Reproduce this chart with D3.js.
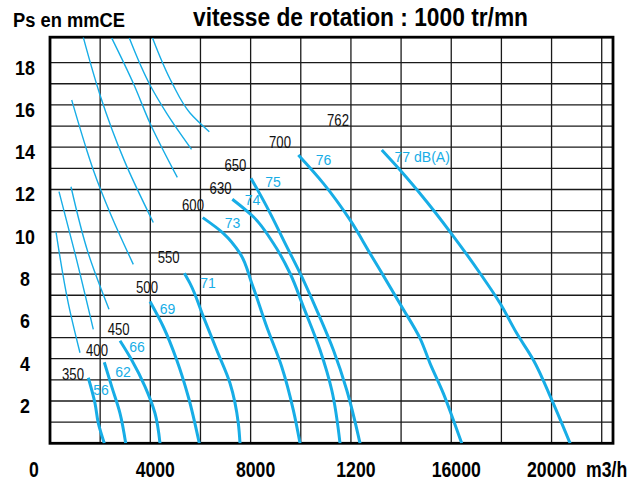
<!DOCTYPE html>
<html>
<head>
<meta charset="utf-8">
<script src="https://cdn.jsdelivr.net/npm/d3@7"></script>
<style>
  html, body { margin: 0; padding: 0; background: #fff; }
  svg { display: block; font-family: "Liberation Sans", Arial, sans-serif; }
</style>
</head>
<body>
<svg id="chart" width="641" height="483"></svg>
<script>
// ---------------- data ----------------
const titleText = "vitesse de rotation : 1000 tr/mn";
const yTitle = "Ps en mmCE";
const xUnit = "m3/h";

const xTickValues = [0, 4000, 8000, 12000, 16000, 20000];
const xTickLabels = ["0", "4000", "8000", "1200", "16000", "20000"];
const yTickValues = [2, 4, 6, 8, 10, 12, 14, 16, 18];

// thick curves (flow m3/h, pressure mmCE), one per noise level
const c56 = [[1527,3.10],[1795,1.89],[1926,0.95],[2165,0]];
const c62 = [[2165,3.83],[2461,2.68],[2792,1.42],[3019,0]];
const c66 = [[2792,4.85],[3258,3.94],[3789,2.68],[4187,1.42],[4387,0]];
const c69 = [[3988,6.70],[4518,5.51],[5053,3.94],[5515,2.20],[5954,0]];
const c71 = [[5356,8.04],[5583,7.56],[6114,5.99],[6648,4.41],[7178,2.84],[7509,0.95],[7577,0]];
const c73 = [[6090,10.67],[6912,9.93],[7577,8.98],[8044,7.57],[8642,5.51],[9240,3.62],[9703,1.57],[9970,0]];
const c74 = [[7270,11.54],[8108,10.71],[8905,9.46],[9571,8.04],[10102,6.46],[10768,4.41],[11234,2.52],[11565,0]];
const c75 = [[8016,12.53],[8642,11.19],[9440,9.30],[10038,7.88],[10636,6.30],[11300,4.41],[11832,2.52],[12363,0]];
const c76 = [[9902,13.63],[10899,12.29],[11964,10.56],[12762,8.98],[13160,8.19],[14026,6.46],[14756,4.96],[15154,3.78],[15685,2.36],[16084,1.10],[16418,0]];
const c77 = [[13228,13.87],[13958,12.92],[15023,11.42],[15952,10.00],[17148,8.04],[17946,6.62],[18612,5.20],[19274,3.94],[20008,2.05],[20738,0]];

// thin curves
const tA = [[1328,19.19],[1994,16.47],[2951,13.40],[4120,10.44]];
const tB = [[2461,19.16],[3322,17.02],[3988,15.13],[5077,12.57]];
const tC = [[3163,19.16],[3988,16.94],[4654,15.60],[5643,13.90]];
const tD = [[4088,19.16],[4865,17.04],[5583,15.62],[6353,14.73]];
const tE = [[865,16.23],[1464,13.87],[1727,12.92],[2461,10.71],[3322,8.46]];
const tF = [[837,12.13],[1527,8.98],[2353,6.34]];
const tG = [[359,11.90],[997,8.98],[1727,5.39]];
const tH = [[239,10.00],[730,6.62],[1196,4.28]];

// labels
const dbText = ["56","62","66","69","71","73","74","75","76","77 dB(A)"];
const dbFlow = [2034,2911,3470,4686,6301,7278,8076,8893,10907,14841];
const dbPs   = [2.28,3.13,4.33,6.11,7.35,10.18,11.27,12.13,13.16,13.31];

const rpmText = ["350","400","450","500","550","600","630","650","700","762"];
const rpmFlow = [917,1874,2740,3868,4734,5703,6800,7390,9172,11485];
const rpmPs   = [2.99,4.13,5.14,7.09,8.52,10.98,11.79,12.89,13.98,15.00];

// ---------------- drawing ----------------
const BLUE = "#17ade6";
const svg = d3.select("#chart");
svg.append("rect").attr("width", 641).attr("height", 483).attr("fill", "#fff");

const x = d3.scaleLinear().domain([0, 22450]).range([50, 613]);
const y = d3.scaleLinear().domain([0, 19.2]).range([443.3, 37.2]);

function condense(sel, k) {
  sel.each(function () {
    const w = this.getComputedTextLength();
    d3.select(this).attr("textLength", w * k).attr("lengthAdjust", "spacingAndGlyphs");
  });
}

// grid
const grid = svg.append("g").attr("stroke", "#1a1a1a").attr("stroke-width", 1.3);
grid.selectAll("line.v").data(d3.range(2000, 22001, 2000)).join("line")
  .attr("class", "v")
  .attr("x1", d => x(d)).attr("x2", d => x(d))
  .attr("y1", y(0)).attr("y2", y(19.2));
grid.selectAll("line.h").data(d3.range(1, 19, 1)).join("line")
  .attr("class", "h")
  .attr("y1", d => y(d)).attr("y2", d => y(d))
  .attr("x1", x(0)).attr("x2", x(22450));

// frame
svg.append("rect")
  .attr("x", x(0)).attr("y", y(19.2))
  .attr("width", x(22450) - x(0)).attr("height", y(0) - y(19.2))
  .attr("fill", "none").attr("stroke", "#000").attr("stroke-width", 2.8);

// clip
svg.append("clipPath").attr("id", "plot").append("rect")
  .attr("x", x(0)).attr("y", y(19.2))
  .attr("width", x(22450) - x(0)).attr("height", y(0) - y(19.2));

// curves are monotone in pressure: draw with a y-monotone spline (points sorted by rising pressure)
const line = d3.line().x(d => x(d[0])).y(d => y(d[1])).curve(d3.curveMonotoneY);
const sortP = arr => arr.slice().sort((a, b) => b[1] - a[1]);

const plot = svg.append("g").attr("clip-path", "url(#plot)");
plot.selectAll("path.thin").data([tA, tB, tC, tD, tE, tF, tG, tH].map(sortP)).join("path")
  .attr("class", "thin")
  .attr("d", line).attr("fill", "none").attr("stroke", BLUE).attr("stroke-width", 1.4);

plot.selectAll("path.thick").data([c56, c62, c66, c69, c71, c73, c74, c75, c76, c77].map(sortP)).join("path")
  .attr("class", "thick")
  .attr("d", line).attr("fill", "none").attr("stroke", BLUE).attr("stroke-width", 3)
  .attr("stroke-linecap", "butt");

// dB labels
svg.append("g").selectAll("text").data(dbText).join("text")
  .attr("x", (d, i) => x(dbFlow[i])).attr("y", (d, i) => y(dbPs[i]))
  .attr("text-anchor", "middle").attr("font-size", 14).attr("fill", BLUE)
  .text(d => d);

// rpm labels
const rpm = svg.append("g").selectAll("text").data(rpmText).join("text")
  .attr("x", (d, i) => x(rpmFlow[i])).attr("y", (d, i) => y(rpmPs[i]))
  .attr("text-anchor", "middle").attr("font-size", 16).attr("fill", "#111")
  .text(d => d);
condense(rpm, 0.82);

// y tick labels
const yt = svg.append("g").selectAll("text").data(yTickValues).join("text")
  .attr("x", 25).attr("y", d => y(d) + 12)
  .attr("text-anchor", "middle").attr("font-size", 21).attr("font-weight", "bold")
  .text(d => d);
condense(yt, 0.85);

// x tick labels
const xt = svg.append("g").selectAll("text").data(xTickValues).join("text")
  .attr("x", d => x(d) + (d === 0 ? -16 : (d === 20000 ? 0 : 5))).attr("y", 477)
  .attr("text-anchor", "middle").attr("font-size", 21.5).attr("font-weight", "bold")
  .text((d, i) => xTickLabels[i]);
condense(xt, 0.82);

const xu = svg.append("text").attr("x", 586).attr("y", 477)
  .attr("font-size", 21.5).attr("font-weight", "bold").text(xUnit);
condense(xu, 0.82);

// titles
svg.append("text").attr("x", 193).attr("y", 26)
  .attr("font-size", 26).attr("font-weight", "bold")
  .attr("textLength", 335).attr("lengthAdjust", "spacingAndGlyphs")
  .text(titleText);

svg.append("text").attr("x", 13).attr("y", 27)
  .attr("font-size", 19.5).attr("font-weight", "bold")
  .attr("textLength", 112).attr("lengthAdjust", "spacingAndGlyphs")
  .text(yTitle);
</script>
</body>
</html>
